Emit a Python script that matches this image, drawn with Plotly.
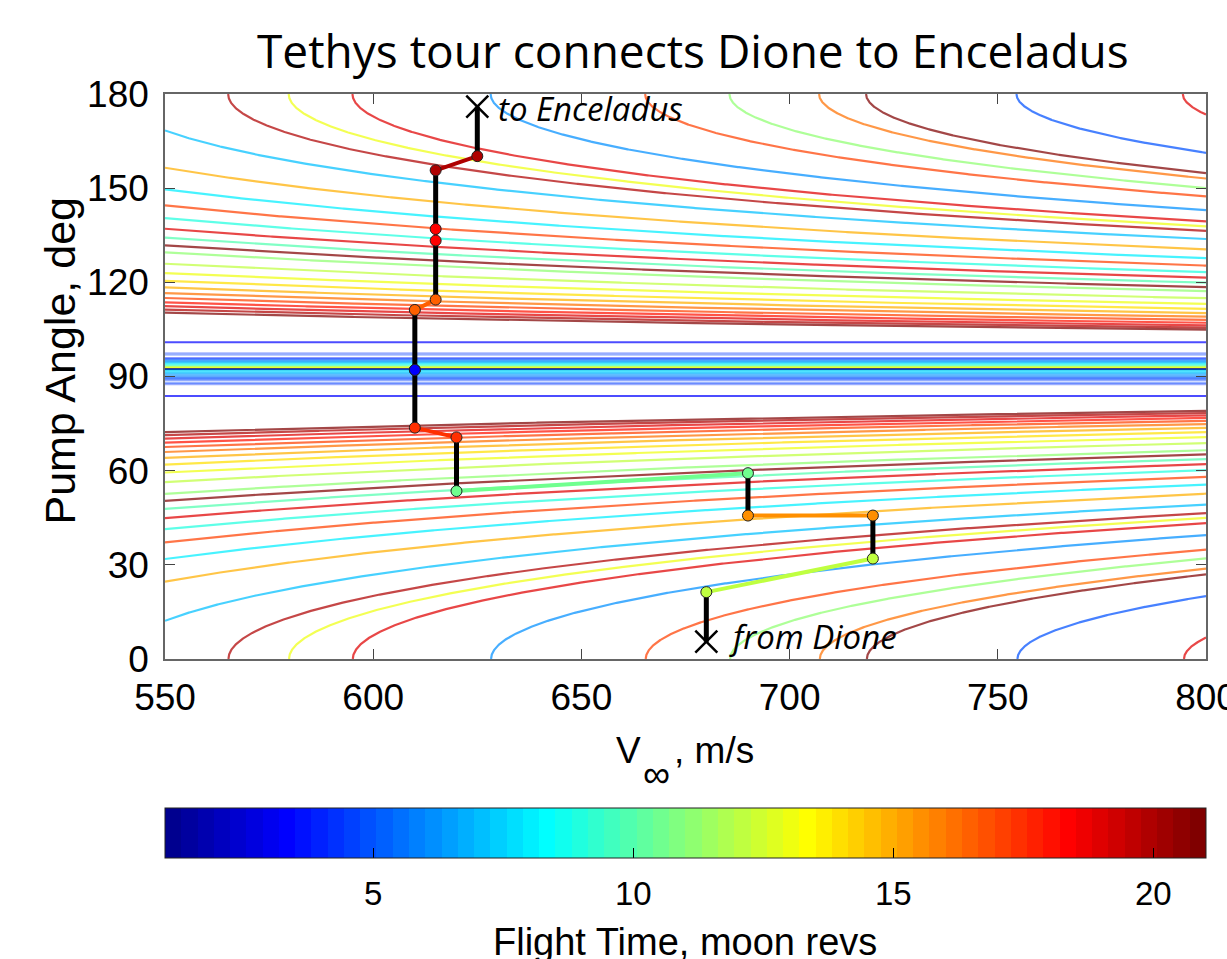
import numpy as np
import plotly.graph_objects as go

# ---------------- data ----------------
# Resonant orbits M:N  (M = flight time in moon revs, N = spacecraft revs)
res_moon_revs = [5, 6, 7, 8, 9, 10, 11, 11, 12, 13, 13, 14, 15, 15, 16, 16, 17, 17, 17, 18,
                 19, 19, 19, 19, 20, 20, 21, 21, 21,
                 5, 6, 7, 8, 9, 10, 11, 11, 12, 13, 13, 14, 15, 15, 16, 16, 17, 17, 17, 18,
                 19, 19, 19, 19, 20, 20, 21, 21, 21]
res_sc_revs = [6, 7, 8, 9, 10, 11, 12, 13, 13, 14, 15, 15, 16, 17, 17, 19, 18, 19, 20, 19,
               20, 21, 22, 23, 21, 23, 22, 23, 25,
               4, 5, 6, 7, 8, 9, 10, 9, 11, 12, 11, 13, 14, 13, 15, 13, 16, 15, 14, 17,
               18, 17, 16, 15, 19, 17, 20, 19, 17]

# near-90 deg band of contour lines (pump angle, flight time, opacity)
band_pump = [100.9, 97.4, 96.9, 95.8, 95.4, 95.0, 94.6, 94.2, 93.8, 93.4, 93.0, 92.7,
             92.3, 91.9, 91.5, 91.1, 90.7, 90.3, 89.9, 89.5, 89.1, 88.7, 87.9, 87.5, 83.8]
band_tof = [3.3, 4.2, 4.5, 4.0, 5.0, 6.0, 6.5, 7.5, 8.5, 10.0, 12.0, 13.0,
            1.0, 8.0, 7.5, 7.0, 6.5, 6.0, 5.5, 5.0, 4.5, 4.5, 4.5, 4.2, 3.3]
band_alpha = [0.7, 0.35, 0.35, 0.6, 0.6, 0.6, 0.6, 0.6, 0.6, 0.6, 0.7, 0.7,
              1.0, 0.6, 0.55, 0.55, 0.5, 0.5, 0.5, 0.5, 0.5, 0.35, 0.4, 0.4, 0.7]

# Tethys circular speed, m/s
V_MOON = 11285.0

# Tour: start / end and resonant transfers
tour_start_vinf, tour_start_pump = 680, 5.5
tour_end_vinf, tour_end_pump = 625, 176.0
xfer_vinf_from = [680, 720, 690, 620, 610, 610, 615, 615]
xfer_pump_from = [21.3, 45.7, 59.2, 70.6, 92.1, 111.2, 133.3, 155.7]
xfer_vinf_to = [720, 690, 620, 610, 610, 615, 615, 625]
xfer_pump_to = [32.0, 45.7, 53.5, 73.7, 92.1, 114.5, 137.0, 160.2]
xfer_tof = [12.1, 15.5, 10.5, 17.4, 3.3, 16.5, 18.3, 19.9]

x_ticks = [550, 600, 650, 700, 750, 800]
y_ticks = [0, 30, 60, 90, 120, 150, 180]
cbar_ticks = [5, 10, 15, 20]
CMIN, CMAX = 1, 21
XMIN, XMAX = 550, 800


# ---------------- colormap (MATLAB jet(64)) ----------------
def jet64():
    n = 16
    m = 64
    u = [j / n for j in range(1, n + 1)] + [1.0] * (n - 1) + [j / n for j in range(n, 0, -1)]
    cols = np.zeros((m, 3))
    g0 = 8
    for idx, val in enumerate(u):
        gi = g0 + idx + 1
        ri = gi + n
        bi = gi - n
        if 1 <= ri <= m:
            cols[ri - 1, 0] = val
        if 1 <= gi <= m:
            cols[gi - 1, 1] = val
        if 1 <= bi <= m:
            cols[bi - 1, 2] = val
    return cols


JET = jet64()


def jet_rgb(v):
    i = int((v - CMIN) / (CMAX - CMIN) * 64)
    i = max(0, min(63, i))
    return JET[i]


def col(v, a=1.0):
    r, g, b = (jet_rgb(v) * 255).round().astype(int)
    return f"rgba({r},{g},{b},{a})"


colorscale = []
for i in range(64):
    r, g, b = (JET[i] * 255).round().astype(int)
    c = f"rgb({r},{g},{b})"
    colorscale.append([i / 64, c])
    colorscale.append([(i + 1) / 64, c])


def resonance_curve(P):
    k = 2.0 - P ** (-2.0 / 3.0)
    ub = np.sqrt(k) - 1 if k > 1 else 1 - np.sqrt(k)
    vb = ub * V_MOON
    if vb >= XMAX:
        return None, None
    s = np.linspace(0, 1, 700)
    if vb > XMIN:
        v = vb + (XMAX - vb) * s ** 2
    else:
        v = XMIN + (XMAX - XMIN) * s
    u = v / V_MOON
    c = np.clip((k - 1 - u ** 2) / (2 * u), -1, 1)
    return v, np.degrees(np.arccos(c))


fig = go.Figure()

# contour lines of resonances, drawn in order of flight time
order = sorted(range(len(res_moon_revs)), key=lambda i: res_moon_revs[i])
for i in order:
    M, N = res_moon_revs[i], res_sc_revs[i]
    vx, ay = resonance_curve(M / N)
    if vx is None:
        continue
    fig.add_trace(go.Scatter(x=vx, y=ay, mode="lines",
                             line=dict(color=col(M, 0.72), width=2.2),
                             hoverinfo="skip", showlegend=False))

for a, t, al in zip(band_pump, band_tof, band_alpha):
    fig.add_trace(go.Scatter(x=[XMIN, XMAX], y=[a, a], mode="lines",
                             line=dict(color=col(t, al), width=2),
                             hoverinfo="skip", showlegend=False))

# flybys (black vertical segments)
fx, fy = [], []
pts_from = list(zip(xfer_vinf_from, xfer_pump_from))
pts_to = list(zip(xfer_vinf_to, xfer_pump_to))
seq_a = [(tour_start_vinf, tour_start_pump)] + pts_to
seq_b = pts_from + [(tour_end_vinf, tour_end_pump)]
for (xa, ya), (xb, yb) in zip(seq_a, seq_b):
    fx += [xa, xb, None]
    fy += [ya, yb, None]
fig.add_trace(go.Scatter(x=fx, y=fy, mode="lines", line=dict(color="black", width=5),
                         hoverinfo="skip", showlegend=False))

# transfers
for x0, y0, x1, y1, t in zip(xfer_vinf_from, xfer_pump_from, xfer_vinf_to, xfer_pump_to, xfer_tof):
    fig.add_trace(go.Scatter(x=[x0, x1], y=[y0, y1], mode="lines",
                             line=dict(color=col(t), width=4),
                             hoverinfo="skip", showlegend=False))
mx, my, mc = [], [], []
for x0, y0, x1, y1, t in zip(xfer_vinf_from, xfer_pump_from, xfer_vinf_to, xfer_pump_to, xfer_tof):
    mx += [x0, x1]
    my += [y0, y1]
    mc += [col(t), col(t)]
fig.add_trace(go.Scatter(x=mx, y=my, mode="markers",
                         marker=dict(size=11, color=mc, line=dict(color="#222", width=1)),
                         hoverinfo="skip", showlegend=False))
fig.add_trace(go.Scatter(x=[tour_start_vinf, tour_end_vinf], y=[tour_start_pump, tour_end_pump],
                         mode="markers", cliponaxis=False,
                         marker=dict(symbol="x-thin", size=22, line=dict(color="black", width=2.5)),
                         hoverinfo="skip", showlegend=False))

# colorbar carrier
fig.add_trace(go.Scatter(x=[600], y=[-100], mode="markers",
                         marker=dict(size=1, color=[5], cmin=CMIN, cmax=CMAX,
                                     colorscale=colorscale, showscale=True,
                                     colorbar=dict(orientation="h", xref="paper", yref="container",
                                                   x=0.5, xanchor="center",
                                                   y=1 - 808 / 959, yanchor="top",
                                                   len=1.0, lenmode="fraction",
                                                   thickness=50, thicknessmode="pixels",
                                                   xpad=0, ypad=0,
                                                   outlinewidth=1, outlinecolor="#222",
                                                   tickvals=cbar_ticks, ticks="inside", ticklen=10,
                                                   tickcolor="black", tickwidth=1,
                                                   showticklabels=False)),
                         hoverinfo="skip", showlegend=False))

PL, PR, PT, PB = 164.5, 1206.0, 94.0, 659.0


def px(xp):
    return (xp - PL) / (PR - PL)


def py(yp):
    return (PB - yp) / (PB - PT)


AX_FONT = dict(family="Liberation Sans, Arial", size=37, color="black")
axis_common = dict(showgrid=False, zeroline=False, showline=True, linecolor="#666", linewidth=1.5,
                   mirror="ticks", ticks="inside", ticklen=10, tickwidth=1, tickcolor="#444",
                   tickfont=AX_FONT, automargin=False)
fig.update_xaxes(range=[XMIN, XMAX], tickvals=x_ticks, ticklabelstandoff=5,
                 ticklabeloverflow="allow", **axis_common)
fig.update_yaxes(range=[0, 180], tickvals=y_ticks, ticklabelstandoff=7, **axis_common)

LAB = "Liberation Sans, Arial"
annotations = [
    dict(text="Tethys tour connects Dione to Enceladus", xref="paper", yref="paper",
         x=px(693), y=py(50), xanchor="center", yanchor="middle", showarrow=False,
         font=dict(family="Open Sans", size=46, color="black")),
    dict(text="V", xref="paper", yref="paper", x=px(614), y=py(750),
         xanchor="left", yanchor="middle", showarrow=False,
         font=dict(family=LAB, size=37, color="black")),
    dict(text="∞", xref="paper", yref="paper", x=px(656.5), y=py(774),
         xanchor="center", yanchor="middle", showarrow=False,
         font=dict(family=LAB, size=38, color="black")),
    dict(text=", m/s", xref="paper", yref="paper", x=px(672), y=py(750),
         xanchor="left", yanchor="middle", showarrow=False,
         font=dict(family=LAB, size=37, color="black")),
    dict(text="Pump Angle, deg", xref="paper", yref="paper", x=px(59), y=py(361),
         xanchor="center", yanchor="middle", textangle=-90, showarrow=False,
         font=dict(family=LAB, size=43, color="black")),
    dict(text="<i>to Enceladus</i>", xref="x", yref="y", x=629.6, y=175.5,
         xanchor="left", yanchor="middle", showarrow=False,
         font=dict(family="Open Sans", size=33, color="black")),
    dict(text="<i>from Dione</i>", xref="x", yref="y", x=685.0, y=7.3,
         xanchor="left", yanchor="middle", showarrow=False,
         font=dict(family="Open Sans", size=33, color="black")),
    dict(text="Flight Time, moon revs", xref="paper", yref="paper", x=px(685), y=py(942),
         xanchor="center", yanchor="middle", showarrow=False,
         font=dict(family=LAB, size=38, color="black")),
]
for t in cbar_ticks:
    annotations.append(dict(text=str(t), xref="paper", yref="paper",
                            x=(t - CMIN) / (CMAX - CMIN), y=py(893),
                            xanchor="center", yanchor="middle", showarrow=False,
                            font=dict(family=LAB, size=33, color="black")))

fig.update_layout(width=1227, height=959, template="none",
                  margin=dict(l=PL, r=1227 - PR, t=PT, b=959 - PB, pad=0),
                  paper_bgcolor="white", plot_bgcolor="white", showlegend=False,
                  annotations=annotations)

fig.write_html("out.html")
